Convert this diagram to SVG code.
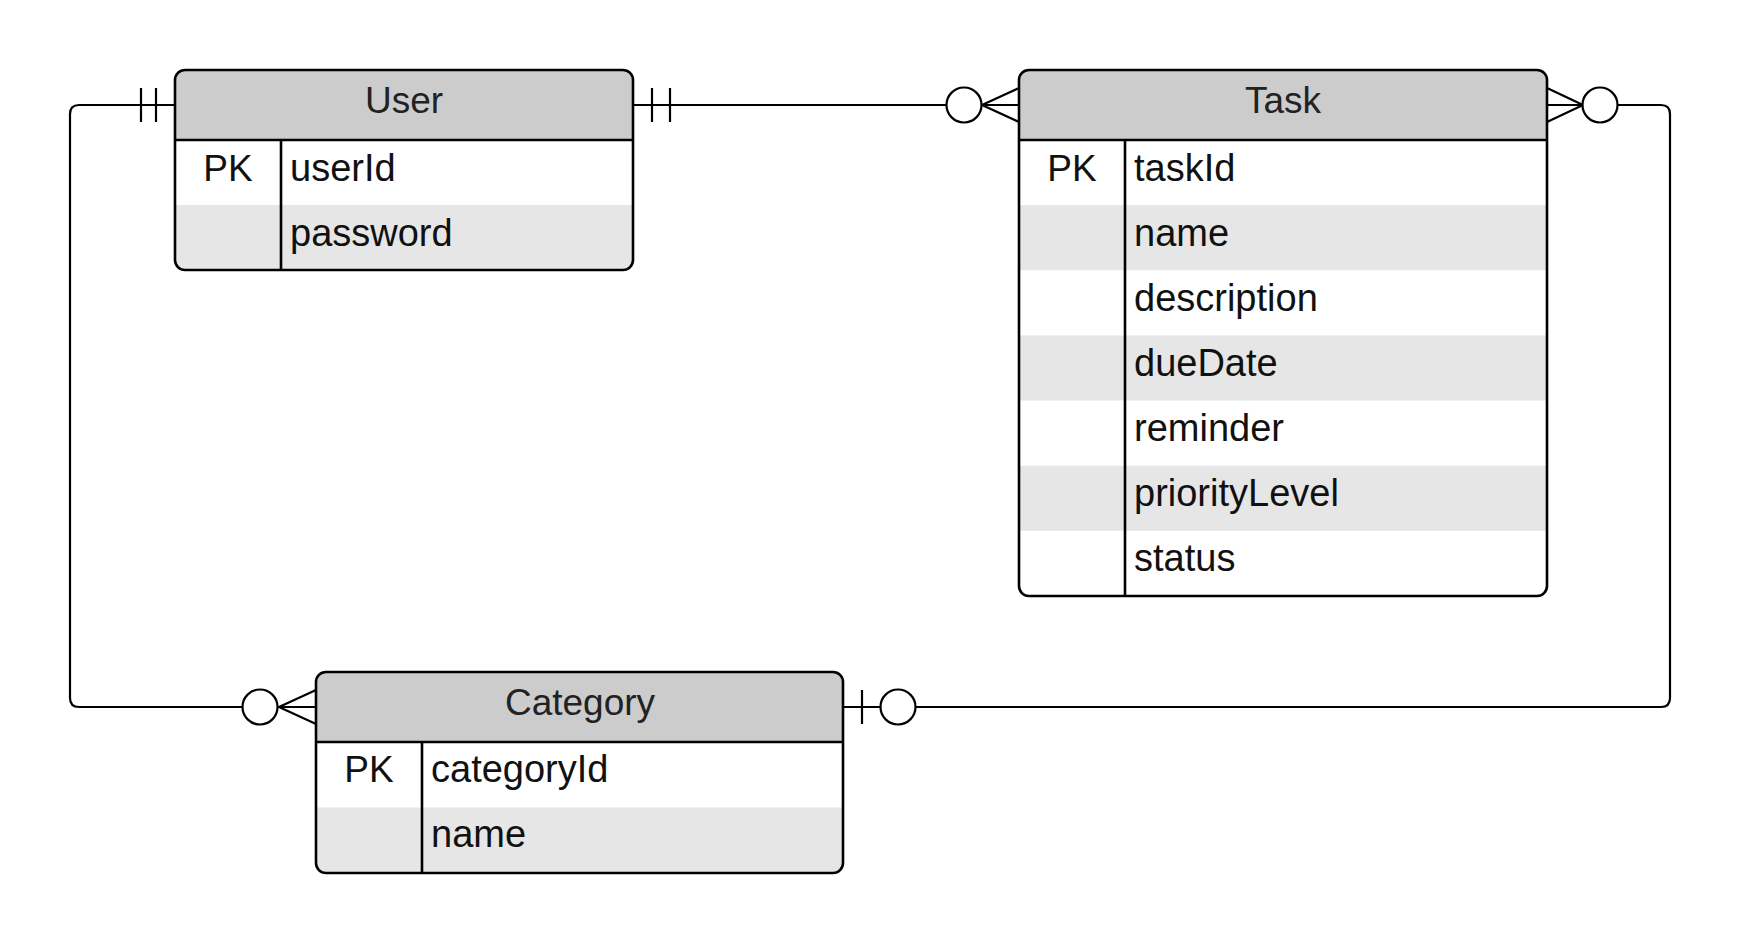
<svg xmlns="http://www.w3.org/2000/svg" width="1741" height="944" viewBox="0 0 1741 944">
  <style>
    .box { fill: none; stroke: #000; stroke-width: 2.6; }
    .body { fill: #fff; }
    .head { fill: #cccccc; }
    .alt { fill: #e6e6e6; }
    .sep { stroke: #000; stroke-width: 2.6; fill: none; }
    .title { font-family: "Liberation Sans", Arial, sans-serif; font-size: 37px; fill: #222; text-anchor: middle; }
    .cell { font-family: "Liberation Sans", Arial, sans-serif; font-size: 38px; fill: #111; }
    .key { font-family: "Liberation Sans", Arial, sans-serif; font-size: 37px; fill: #111; text-anchor: middle; }
    .conn { fill: none; stroke: #000; stroke-width: 2.2; }
    .ring { fill: #fff; stroke: #000; stroke-width: 2.2; }
  </style>
  <defs>
    <clipPath id="clipUser"><rect x="175" y="70" width="458" height="200" rx="10"/></clipPath>
    <clipPath id="clipTask"><rect x="1019" y="70" width="528" height="526" rx="10"/></clipPath>
    <clipPath id="clipCategory"><rect x="316" y="672" width="527" height="201" rx="10"/></clipPath>
  </defs>

  <rect width="1741" height="944" fill="#fff"/>

  <!-- relationship lines -->
  <g id="connectors">
    <!-- User ||—o< Task -->
    <line class="conn" x1="633" y1="105" x2="1019" y2="105"/>
    <line class="conn" x1="652" y1="88" x2="652" y2="122"/>
    <line class="conn" x1="670" y1="88" x2="670" y2="122"/>
    <polyline class="conn" points="1019,88 982,105 1019,122"/>
    <circle class="ring" cx="964" cy="105" r="17.5"/>

    <!-- User ||—o< Category -->
    <path class="conn" d="M175,105 H79 Q70,105 70,114 V698 Q70,707 79,707 H316"/>
    <line class="conn" x1="141" y1="88" x2="141" y2="122"/>
    <line class="conn" x1="156" y1="88" x2="156" y2="122"/>
    <polyline class="conn" points="316,690 279,707 316,724"/>
    <circle class="ring" cx="260" cy="707" r="17.5"/>

    <!-- Task >o—|o Category -->
    <path class="conn" d="M1547,105 H1661 Q1670,105 1670,114 V698 Q1670,707 1661,707 H843"/>
    <polyline class="conn" points="1547,88 1583,105 1547,122"/>
    <circle class="ring" cx="1600" cy="105" r="17.5"/>
    <line class="conn" x1="862" y1="690" x2="862" y2="724"/>
    <circle class="ring" cx="898" cy="707" r="17.5"/>
  </g>

  <!-- User entity -->
  <g id="user">
    <g clip-path="url(#clipUser)">
      <rect class="body" x="175" y="70" width="458" height="200"/>
      <rect class="head" x="175" y="70" width="458" height="70"/>
      <rect class="alt" x="175" y="205" width="458" height="65"/>
    </g>
    <line class="sep" x1="175" y1="140" x2="633" y2="140"/>
    <line class="sep" x1="281" y1="140" x2="281" y2="270"/>
    <rect class="box" x="175" y="70" width="458" height="200" rx="10"/>
    <text class="title" x="404" y="113">User</text>
    <text class="key" x="228" y="181">PK</text>
    <text class="cell" x="290" y="181">userId</text>
    <text class="cell" x="290" y="246">password</text>
  </g>

  <!-- Task entity -->
  <g id="task">
    <g clip-path="url(#clipTask)">
      <rect class="body" x="1019" y="70" width="528" height="526"/>
      <rect class="head" x="1019" y="70" width="528" height="70"/>
      <rect class="alt" x="1019" y="205.1" width="528" height="65.1"/>
      <rect class="alt" x="1019" y="335.4" width="528" height="65.1"/>
      <rect class="alt" x="1019" y="465.7" width="528" height="65.1"/>
    </g>
    <line class="sep" x1="1019" y1="140" x2="1547" y2="140"/>
    <line class="sep" x1="1125" y1="140" x2="1125" y2="596"/>
    <rect class="box" x="1019" y="70" width="528" height="526" rx="10"/>
    <text class="title" x="1283" y="113">Task</text>
    <text class="key" x="1072" y="181">PK</text>
    <text class="cell" x="1134" y="181">taskId</text>
    <text class="cell" x="1134" y="246">name</text>
    <text class="cell" x="1134" y="311">description</text>
    <text class="cell" x="1134" y="376">dueDate</text>
    <text class="cell" x="1134" y="441">reminder</text>
    <text class="cell" x="1134" y="506">priorityLevel</text>
    <text class="cell" x="1134" y="571">status</text>
  </g>

  <!-- Category entity -->
  <g id="category">
    <g clip-path="url(#clipCategory)">
      <rect class="body" x="316" y="672" width="527" height="201"/>
      <rect class="head" x="316" y="672" width="527" height="70"/>
      <rect class="alt" x="316" y="807.5" width="527" height="65.5"/>
    </g>
    <line class="sep" x1="316" y1="742" x2="843" y2="742"/>
    <line class="sep" x1="422" y1="742" x2="422" y2="873"/>
    <rect class="box" x="316" y="672" width="527" height="201" rx="10"/>
    <text class="title" x="580" y="715">Category</text>
    <text class="key" x="369" y="782">PK</text>
    <text class="cell" x="431" y="782">categoryId</text>
    <text class="cell" x="431" y="847">name</text>
  </g>
</svg>
